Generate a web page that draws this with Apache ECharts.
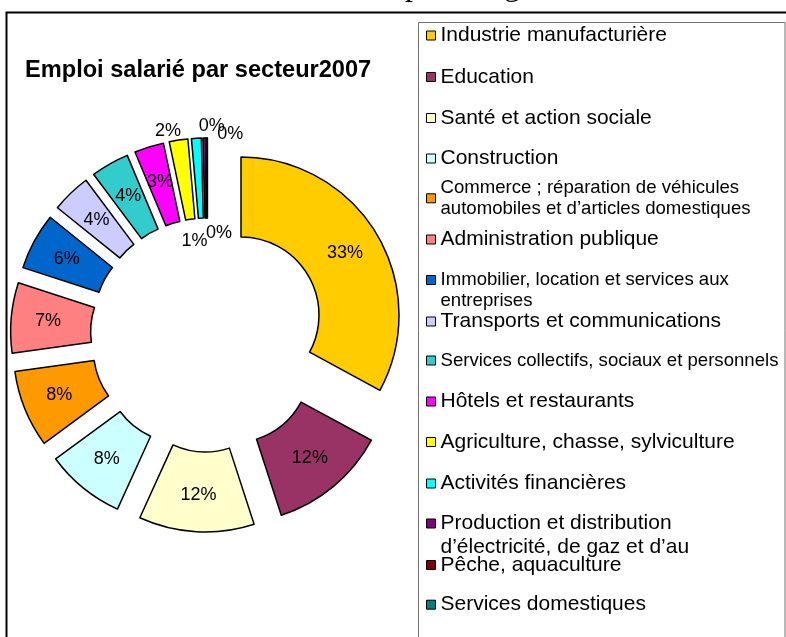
<!DOCTYPE html>
<html><head><meta charset="utf-8">
<script src="https://cdn.jsdelivr.net/npm/echarts@6/dist/echarts.min.js"></script>
<style>html,body{margin:0;padding:0;background:#fff}#c{width:786px;height:637px}</style>
</head><body><div id="c"></div>
<script>
// ---- data ----
const categories = [
  'Industrie manufacturière',
  'Education',
  'Santé et action sociale',
  'Construction',
  'Commerce ; réparation de véhicules automobiles et d’articles domestiques',
  'Administration publique',
  'Immobilier, location et services aux entreprises',
  'Transports et communications',
  'Services collectifs, sociaux et personnels',
  'Hôtels et restaurants',
  'Agriculture, chasse, sylviculture',
  'Activités financières',
  'Production et distribution d’électricité, de gaz et d’au',
  'Pêche, aquaculture',
  'Services domestiques'
];
const values = [32.9, 12.1, 11.8, 8.1, 7.9, 7.2, 5.8, 4.0, 3.9, 3.0, 1.9, 1.0, 0.3, 0.05, 0.05];
const colors = ['#FFCC00','#993366','#FFFFCC','#CCFFFF','#FF9900','#FF8080','#0066CC','#CCCCFF',
                '#33CCCC','#FF00FF','#FFFF00','#00FFFF','#800080','#800000','#008080'];

// ---- legend layout (display text, sizes, positions) ----
const legendText = [
  'Industrie manufacturière',
  'Education',
  'Santé et action sociale',
  'Construction',
  'Commerce ; réparation de véhicules\nautomobiles et d’articles domestiques',
  'Administration publique',
  ' \nImmobilier, location et services aux\nentreprises',
  'Transports et communications',
  'Services collectifs, sociaux et personnels',
  'Hôtels et restaurants',
  'Agriculture, chasse, sylviculture',
  'Activités financières',
  ' \nProduction et distribution\nd’électricité, de gaz et d’au',
  'Pêche, aquaculture',
  'Services domestiques'
];
const legendFont = [21,21,21,21,18.6,21,18.6,21,18.6,21,21,21,21,21,21];
const legendLH   = [24,24,24,24,21,24,21,24,21,24,24,24,24,24,24];
const legendIconY = [35.5,77,118,158.5,198.3,239.5,280,321.5,360.5,401.5,442,483.5,523.5,565,604.7];
// label shifts for the tiny slices (relative to the library's inside position)
const labelShift = {10:[-16,-46], 11:[-4,66], 12:[14,58], 13:[5,-49], 14:[23,-41]};

const FONT = '"Liberation Sans", Arial, sans-serif';
const chart = echarts.init(document.getElementById('c'), null, {renderer:'canvas'});

const legends = categories.map((name, i) => {
  const lines = legendText[i].split('\n').length;
  return {
    data: [name],
    orient: 'vertical',
    left: 426,
    top: legendIconY[i] - lines * legendLH[i] / 2,
    padding: 0,
    itemWidth: 9,
    itemHeight: 9,
    itemGap: 0,
    icon: 'rect',
    selectedMode: false,
    itemStyle: {borderColor:'#000', borderWidth:1},
    textStyle: {fontFamily: FONT, fontSize: legendFont[i], lineHeight: legendLH[i], color:'#000'},
    formatter: () => legendText[i]
  };
});

chart.setOption({
  animation: false,
  title: {
    text: 'Emploi salarié par secteur2007',
    left: 20, top: 53,
    textStyle: {fontFamily: FONT, fontSize: 23.6, fontWeight: 'bold', color:'#000'}
  },
  legend: legends,
  graphic: [
    {type:'rect', shape:{x:6.5, y:12.5, width:900, height:700}, style:{fill:null, stroke:'#000', lineWidth:2}, silent:true},
    {type:'rect', shape:{x:418.5, y:22.5, width:366.5, height:700}, style:{fill:null, stroke:'#707070', lineWidth:1}, silent:true},
    {type:'text', x:405, y:-13, z:10, style:{text:'p', font:'32px "Liberation Serif", serif', fill:'#000', verticalAlign:'middle'}, silent:true},
    {type:'text', x:504, y:-13, z:10, style:{text:'g', font:'32px "Liberation Serif", serif', fill:'#000', verticalAlign:'middle'}, silent:true}
  ],
  series: [{
    type: 'pie',
    center: [207.5, 335],
    radius: [78, 158],
    startAngle: 90,
    clockwise: true,
    selectedMode: 'multiple',
    selectedOffset: 39,
    avoidLabelOverlap: false,
    itemStyle: {borderColor:'#000', borderWidth:1.5},
    label: {
      show: true, position: 'inside', rotate: 0,
      color:'#000', fontSize: 18, fontFamily: FONT,
      formatter: p => Math.round(p.percent) + '%'
    },
    labelLine: {show:false},
    labelLayout: p => {
      const s = labelShift[p.dataIndex];
      return s ? {dx: s[0], dy: s[1]} : {};
    },
    emphasis: {disabled: true},
    select: {itemStyle: {borderColor:'#000', borderWidth:1.5}, label: {color:'#000'}},
    data: categories.map((name, i) => ({
      name, value: values[i], selected: true, itemStyle: {color: colors[i]}
    }))
  }]
});
</script></body></html>
